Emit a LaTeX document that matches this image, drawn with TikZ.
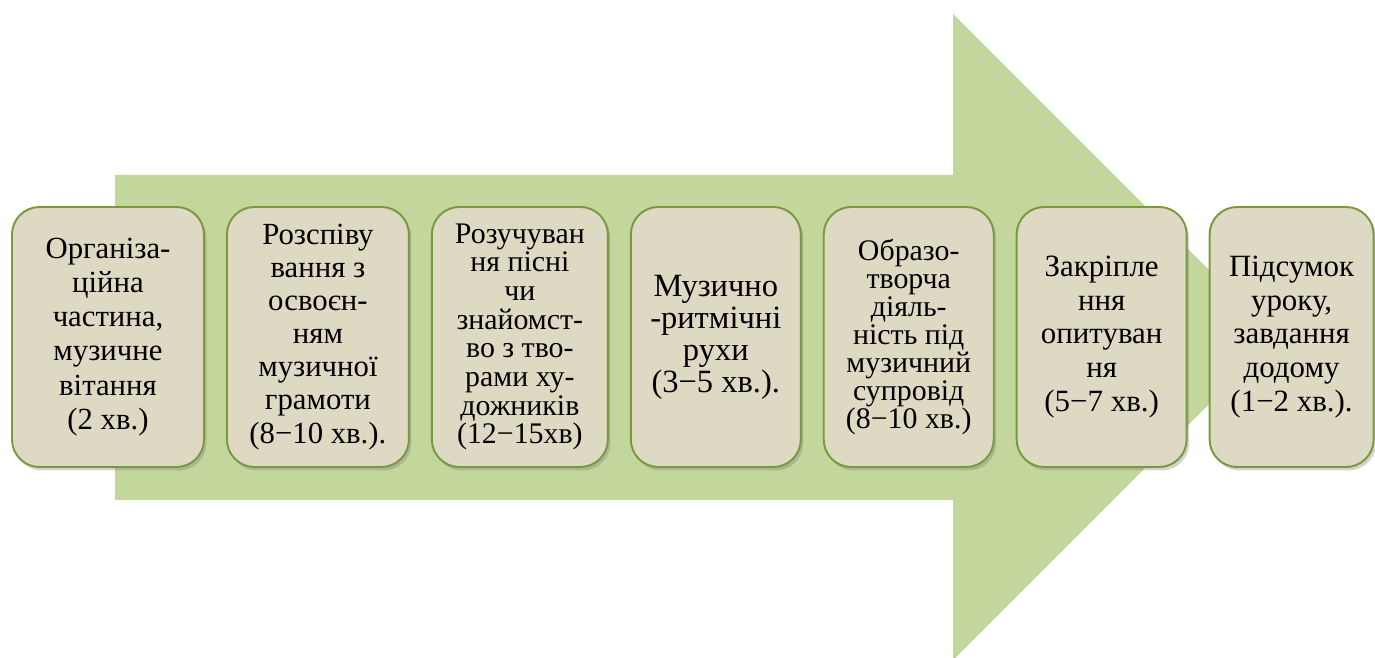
\documentclass[tikz,border=0pt]{standalone}
\usepackage{fontspec}
\setmainfont{Liberation Serif}
\usepackage{tikz}
\usetikzlibrary{positioning,shadows}
\definecolor{arrgreen}{RGB}{195,214,155}
\definecolor{boxfill}{RGB}{221,217,195}
\definecolor{boxrim}{RGB}{122,152,62}
\newcommand{\fsz}[2]{\fontsize{#1}{#2}\selectfont}
\tikzset{
  stage/.style = {rectangle, rounded corners=0.55cm, align=center, inner sep=0pt,
    draw=boxrim, line width=1.1pt, fill=boxfill, minimum height=5.2cm,
    drop shadow={shadow xshift=0.05cm, shadow yshift=-0.07cm, opacity=0.35}},% beige box
  bigarrow/.style = {fill=arrgreen}% green arrow behind
}

\begin{document}
\begin{tikzpicture}
\useasboundingbox (0,0) rectangle (27.5,13.16);
% arrow
\fill[bigarrow] (2.3,3.16) -- (2.3,9.66) -- (19.06,9.66) -- (19.06,12.88)
	-- (25.52,6.42) -- (19.06,-0.04) -- (19.06,3.16) -- cycle;
% stages
\node [stage, minimum width=3.84cm, font=\fsz{17.5}{19.4}] (org) at (2.16,6.42)
	{Організа-\\ційна\\частина,\\музичне\\вітання\\(2 хв.)};
\node [stage, minimum width=3.64cm, font=\fsz{17.5}{18.8}, right=0.42cm of org] (rozsp)
	{Розспіву\\вання з\\освоєн-\\ням\\музичної\\грамоти\\(8−10 хв.).};
\node [stage, minimum width=3.52cm, font=\fsz{17}{16.3}, right=0.42cm of rozsp] (rozuch)
	{Розучуван\\ня пісні\\чи\\знайомст-\\во з тво-\\рами ху-\\дожників\\(12−15хв)};
\node [stage, minimum width=3.40cm, font=\fsz{18.5}{18.2}, right=0.42cm of rozuch] (ruhy)
	{Музично\\-ритмічні\\рухи\\(3−5 хв.).};
\node [stage, minimum width=3.40cm, font=\fsz{17}{16}, right=0.42cm of ruhy] (obraz)
	{Образо-\\творча\\діяль-\\ність під\\музичний\\супровід\\(8−10 хв.)};
\node [stage, minimum width=3.40cm, font=\fsz{17.6}{19.3}, right=0.42cm of obraz] (zakr)
	{Закріпле\\ння\\опитуван\\ня\\(5−7 хв.)};
\node [stage, minimum width=3.28cm, font=\fsz{17.6}{19.3}, right=0.42cm of zakr] (pidsum)
	{Підсумок\\уроку,\\завдання\\додому\\(1−2 хв.).};
\end{tikzpicture}
\end{document}
